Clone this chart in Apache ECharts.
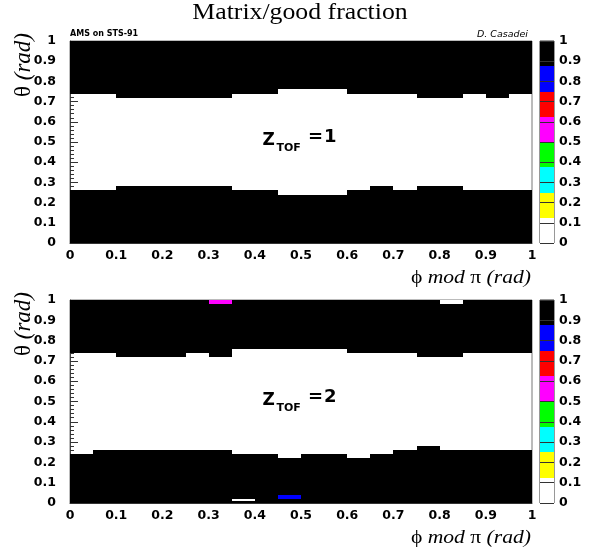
<!DOCTYPE html>
<html><head><meta charset="utf-8">
<script src="https://cdn.jsdelivr.net/npm/echarts@6/dist/echarts.min.js"></script>
<style>html,body{margin:0;padding:0;background:#fff}#c{width:598px;height:554px}</style>
</head><body><div id="c"></div>
<script>
// ---- data ----
const xBinWidth = 0.05;           // phi bins
const fullValue = 0.95;           // black cells (fraction ~1)
// Z_TOF = 1 : top edge of the lower black band, per phi bin
const z1LowerTop    = [0.26,0.26,0.28,0.28,0.28,0.28,0.28,0.26,0.26,0.24,0.24,0.24,0.26,0.28,0.26,0.28,0.28,0.26,0.26,0.26];
// Z_TOF = 1 : bottom edge of the upper black band
const z1UpperBottom = [0.74,0.74,0.72,0.72,0.72,0.72,0.72,0.74,0.74,0.76,0.76,0.76,0.74,0.74,0.74,0.72,0.72,0.74,0.72,0.74];
// Z_TOF = 2
const z2LowerTop    = [0.24,0.26,0.26,0.26,0.26,0.26,0.26,0.24,0.24,0.22,0.24,0.24,0.22,0.24,0.26,0.28,0.26,0.26,0.26,0.26];
const z2UpperBottom = [0.74,0.74,0.72,0.72,0.72,0.74,0.72,0.76,0.76,0.76,0.76,0.76,0.74,0.74,0.74,0.72,0.72,0.74,0.74,0.74];
// isolated cells: [phi0, phi1, theta0, theta1, fraction]
const z2Extra = [
  [0.30,0.35,0.98,1.00,0.55],
  [0.80,0.85,0.98,1.00,0.05],
  [0.35,0.40,0.01,0.02,0.05],
  [0.45,0.50,0.02,0.04,0.80]
];
const paletteColors = ['#ffffff','#ffff00','#00ffff','#00ff00','#ff00ff','#ff0000','#0000ff','#000000'];
const paletteEdges  = [0,0.125,0.25,0.375,0.5,0.625,0.75,0.875,1];

function buildCells(lower, upper, extra){
  const out = [];
  lower.forEach((top, i) => {
    const x0 = +(i*xBinWidth).toFixed(2), x1 = +((i+1)*xBinWidth).toFixed(2);
    out.push([x0, x1, 0, top, fullValue]);
    out.push([x0, x1, upper[i], 1, fullValue]);
  });
  extra.forEach(c => out.push(c));
  return out;
}
const colorbarData = paletteColors.map((c, i) => [0, 1, paletteEdges[i], paletteEdges[i+1], (paletteEdges[i]+paletteEdges[i+1])/2]);

const chart = echarts.init(document.getElementById('c'), null, {renderer:'canvas'});
const SANS = 'DejaVu Sans';
const SERIF = 'Liberation Serif';

function renderRect(params, api){
  const p0 = api.coord([api.value(0), api.value(3)]);
  const p1 = api.coord([api.value(1), api.value(2)]);
  const x0 = Math.round(p0[0]), y0 = Math.round(p0[1]);
  const x1 = Math.round(p1[0]), y1 = Math.round(p1[1]);
  return {type:'rect', shape:{x:x0, y:y0, width:x1-x0, height:y1-y0},
          style:{fill:api.visual('color')}};
}

function mainX(gi){
  return {gridIndex:gi, type:'value', min:0, max:1, interval:0.1,
    axisLine:{show:true, lineStyle:{color:'#333', width:1}},
    axisTick:{show:false}, splitLine:{show:false},
    axisLabel:{margin:6, color:'#000', fontFamily:SANS, fontWeight:'bold', fontSize:12.5}};
}
function mainY(gi){
  return {gridIndex:gi, type:'value', min:0, max:1, interval:0.1,
    axisLine:{show:true, lineStyle:{color:'#444', width:1}},
    axisTick:{show:true, inside:true, length:8, lineStyle:{color:'#333'}},
    minorTick:{show:true, splitNumber:5, length:4, lineStyle:{color:'#333'}},
    splitLine:{show:false},
    axisLabel:{margin:14, color:'#000', fontFamily:SANS, fontWeight:'bold', fontSize:12.5}};
}
function cbX(gi){ return {gridIndex:gi, type:'value', min:0, max:1, show:false}; }
function cbY(gi){
  return {gridIndex:gi, type:'value', min:0, max:1, interval:0.1, position:'right', z:5,
    axisLine:{show:false}, axisTick:{show:false},
    splitLine:{show:true, lineStyle:{color:'#333', width:1}},
    axisLabel:{margin:5, color:'#000', fontFamily:SANS, fontWeight:'bold', fontSize:12.5}};
}

function zLabel(yOff, n){
  return [
    {type:'text', left:262.5, top:yOff+132, style:{text:'Z', font:'bold 17px "DejaVu Sans"', fill:'#000'}},
    {type:'text', left:276.5, top:yOff+143, style:{text:'TOF', font:'bold 11px "DejaVu Sans"', fill:'#000'}},
    {type:'text', left:308, top:yOff+128, style:{text:'=', font:'bold 18px "DejaVu Sans"', fill:'#000'}},
    {type:'text', left:324, top:yOff+128, style:{text:String(n), font:'bold 18px "DejaVu Sans"', fill:'#000'}}
  ];
}
function xTitle(cy){
  return {type:'text', x:531, y:cy, scaleX:1.2, originX:0, style:{
    text:'{n|ϕ }{i|mod}{n| π }{i|(rad)}', textAlign:'right', textVerticalAlign:'middle',
    rich:{n:{fontFamily:SERIF, fontSize:18, fill:'#000'}, i:{fontFamily:SERIF, fontStyle:'italic', fontSize:18, fill:'#000'}}}};
}
function yTitle(ty){
  return {type:'text', x:24, y:ty, rotation:Math.PI/2, style:{
    text:'{n|θ }{i|(rad)}', textAlign:'right', textVerticalAlign:'middle',
    rich:{n:{fontFamily:SERIF, fontSize:23, fill:'#000'}, i:{fontFamily:SERIF, fontStyle:'italic', fontSize:23, fill:'#000'}}}};
}

chart.setOption({
  animation:false,
  backgroundColor:'#fff',
  grid:[
    {left:70, top:41, width:462, height:202, show:true, borderColor:'#777', borderWidth:1, backgroundColor:'transparent'},
    {left:70, top:300, width:462, height:203, show:true, borderColor:'#777', borderWidth:1, backgroundColor:'transparent'},
    {left:540, top:41, width:14, height:202, show:true, borderColor:'#333', borderWidth:1, backgroundColor:'transparent'},
    {left:540, top:300, width:14, height:203, show:true, borderColor:'#333', borderWidth:1, backgroundColor:'transparent'}
  ],
  xAxis:[mainX(0), mainX(1), cbX(2), cbX(3)],
  yAxis:[mainY(0), mainY(1), cbY(2), cbY(3)],
  visualMap:{type:'piecewise', show:false, dimension:4, seriesIndex:[0,1,2,3],
    pieces:paletteColors.map((c,i)=>({gte:paletteEdges[i], lt: i===7 ? 1.0001 : paletteEdges[i+1], color:c}))},
  series:[
    {type:'custom', xAxisIndex:0, yAxisIndex:0, renderItem:renderRect, encode:{x:[0,1], y:[2,3]}, data:buildCells(z1LowerTop, z1UpperBottom, [])},
    {type:'custom', xAxisIndex:1, yAxisIndex:1, renderItem:renderRect, encode:{x:[0,1], y:[2,3]}, data:buildCells(z2LowerTop, z2UpperBottom, z2Extra)},
    {type:'custom', xAxisIndex:2, yAxisIndex:2, renderItem:renderRect, encode:{x:[0,1], y:[2,3]}, data:colorbarData},
    {type:'custom', xAxisIndex:3, yAxisIndex:3, renderItem:renderRect, encode:{x:[0,1], y:[2,3]}, data:colorbarData}
  ],
  graphic:[
    {type:'text', x:300, y:13, scaleX:1.12, originX:0, style:{text:'Matrix/good fraction', font:'23px "Liberation Serif"', fill:'#000', textAlign:'center', textVerticalAlign:'middle'}},
    {type:'text', left:70, top:30, style:{text:'AMS on STS-91', font:'bold 8px "DejaVu Sans"', fill:'#000'}},
    {type:'text', right:70, top:30, style:{text:'D. Casadei', font:'italic 9.5px "DejaVu Sans"', fill:'#000'}},
    ...zLabel(0, 1), ...zLabel(260, 2),
    xTitle(278), xTitle(538),
    yTitle(33), yTitle(292)
  ]
});
</script></body></html>
